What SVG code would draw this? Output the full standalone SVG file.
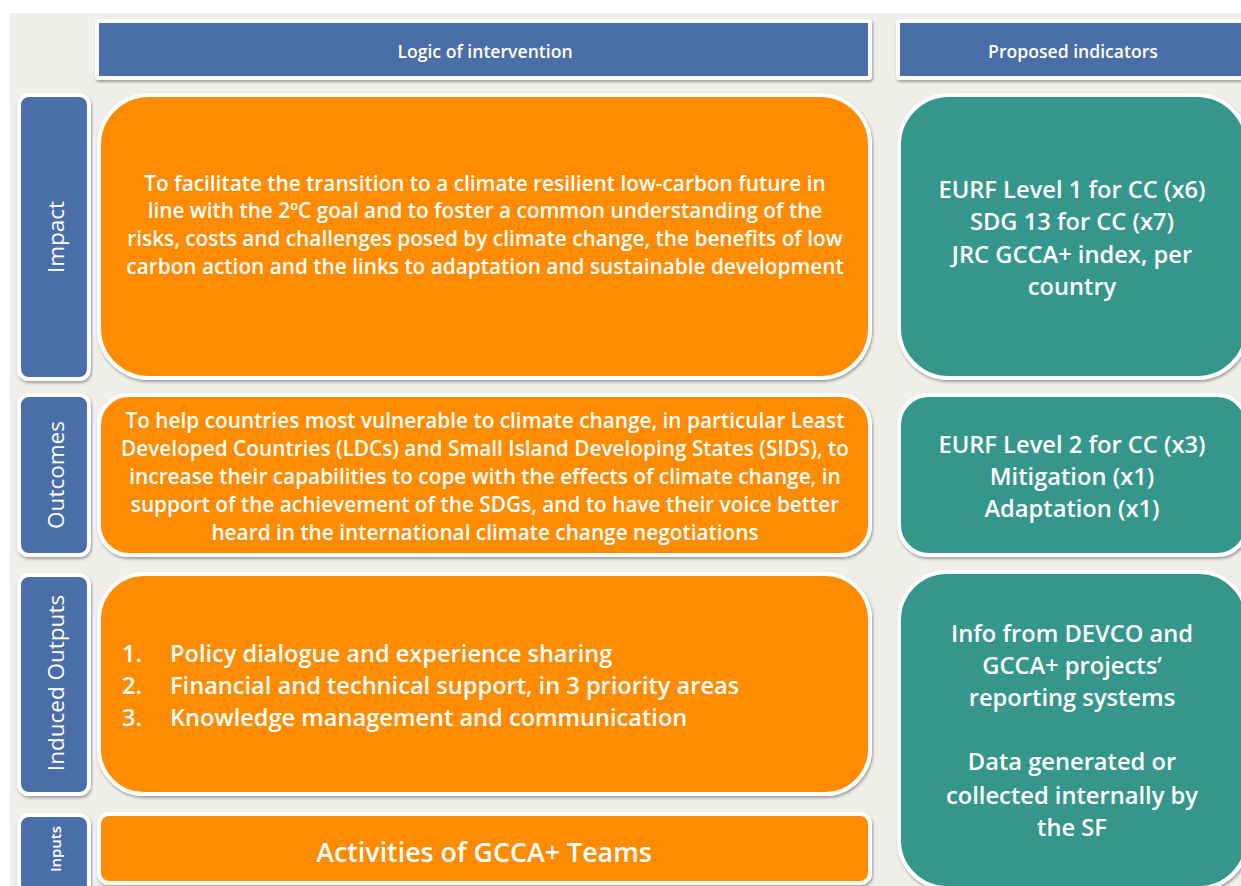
<svg xmlns="http://www.w3.org/2000/svg" width="1241" height="886" viewBox="0 0 1241 886">
<defs>
<filter id="sh" x="-5%" y="-5%" width="110%" height="115%">
<feDropShadow dx="1" dy="2" stdDeviation="1.5" flood-color="#000" flood-opacity="0.35"/>
</filter>
<style>
.box{stroke:#fff;stroke-width:4;filter:url(#sh)}
.blue{fill:#4a6ea8}
.orange{fill:#fe8b00}
.teal{fill:#35978b}
text{font-family:"Open Sans",Lato,"Liberation Sans",sans-serif;fill:#fff;text-anchor:middle;font-weight:600}
.hd{font-size:17.6px}
.lbl{font-size:22.5px;font-weight:400}
.body{font-size:20.8px}
.ind{font-size:23.7px}
.list{font-size:23.6px;text-anchor:start}
</style>
</defs>
<rect x="0" y="0" width="1241" height="886" fill="#fff"/>
<rect x="10" y="13" width="1231" height="873" fill="#efeee9"/>

<g id="header-logic">
<rect class="box blue" x="97" y="21" width="773" height="57" rx="2"/>
<text class="hd" x="485" y="58">Logic of intervention</text>
</g>
<g id="header-indicators">
<rect class="box blue" x="898" y="21" width="352" height="57" rx="2"/>
<text class="hd" x="1073" y="58">Proposed indicators</text>
</g>

<g id="label-impact">
<rect class="box blue" x="19" y="95" width="70" height="284" rx="10"/>
<text class="lbl" transform="translate(64,237) rotate(-90)">Impact</text>
</g>
<g id="label-outcomes">
<rect class="box blue" x="19" y="395" width="70" height="160" rx="10"/>
<text class="lbl" transform="translate(64,475) rotate(-90)">Outcomes</text>
</g>
<g id="label-induced">
<rect class="box blue" x="19" y="575" width="70" height="219" rx="10"/>
<text class="lbl" transform="translate(64,683) rotate(-90)">Induced Outputs</text>
</g>
<g id="label-inputs">
<rect class="box blue" x="19" y="815" width="70" height="80" rx="10"/>
<text style="font-size:15px" transform="translate(61,849) rotate(-90)">Inputs</text>
</g>

<g id="impact-logic">
<rect class="box orange" x="99" y="95" width="771" height="283" rx="50"/>
<text class="body" x="485" y="191">To facilitate the transition to a climate resilient low-carbon future in</text>
<text class="body" x="485" y="218">line with the 2ºC goal and to foster a common understanding of the</text>
<text class="body" x="485" y="246">risks, costs and challenges posed by climate change, the benefits of low</text>
<text class="body" x="485" y="274">carbon action and the links to adaptation and sustainable development</text>
</g>
<g id="outcomes-logic">
<rect class="box orange" x="99" y="395" width="771" height="160" rx="30"/>
<text class="body" x="485" y="428">To help countries most vulnerable to climate change, in particular Least</text>
<text class="body" x="485" y="456">Developed Countries (LDCs) and Small Island Developing States (SIDS), to</text>
<text class="body" x="485" y="484">increase their capabilities to cope with the effects of climate change,  in</text>
<text class="body" x="485" y="512">support of the achievement of the SDGs, and to have their voice better</text>
<text class="body" x="485" y="540">heard in the international climate change negotiations</text>
</g>
<g id="induced-logic">
<rect class="box orange" x="99" y="574" width="771" height="220" rx="45"/>
<text class="list" x="122" y="662">1.</text>
<text class="list" x="170" y="662">Policy dialogue and experience sharing</text>
<text class="list" x="122" y="694">2.</text>
<text class="list" x="170" y="694">Financial and technical support, in 3 priority areas</text>
<text class="list" x="122" y="726">3.</text>
<text class="list" x="170" y="726">Knowledge management and communication</text>
</g>
<g id="inputs-logic">
<rect class="box orange" x="99" y="814" width="771" height="69" rx="10"/>
<text style="font-size:26.8px" x="484" y="862">Activities of GCCA+ Teams</text>
</g>

<g id="impact-indicators">
<rect class="box teal" x="899" y="95" width="348" height="283" rx="50"/>
<text class="ind" x="1072" y="198">EURF Level 1 for CC (x6)</text>
<text class="ind" x="1072" y="230">SDG 13 for CC (x7)</text>
<text class="ind" x="1072" y="263">JRC GCCA+ index, per</text>
<text class="ind" x="1072" y="295">country</text>
</g>
<g id="outcomes-indicators">
<rect class="box teal" x="899" y="395" width="348" height="160" rx="30"/>
<text class="ind" x="1072" y="453">EURF Level 2 for CC (x3)</text>
<text class="ind" x="1072" y="485">Mitigation (x1)</text>
<text class="ind" x="1072" y="517">Adaptation (x1)</text>
</g>
<g id="induced-indicators">
<rect class="box teal" x="899" y="572" width="348" height="316" rx="48"/>
<text class="ind" x="1072" y="642">Info from DEVCO and</text>
<text class="ind" x="1072" y="674">GCCA+ projects’</text>
<text class="ind" x="1072" y="706">reporting systems</text>
<text class="ind" x="1072" y="770">Data generated or</text>
<text class="ind" x="1072" y="804">collected internally by</text>
<text class="ind" x="1072" y="836">the SF</text>
</g>
<g id="connectors"></g>
</svg>
